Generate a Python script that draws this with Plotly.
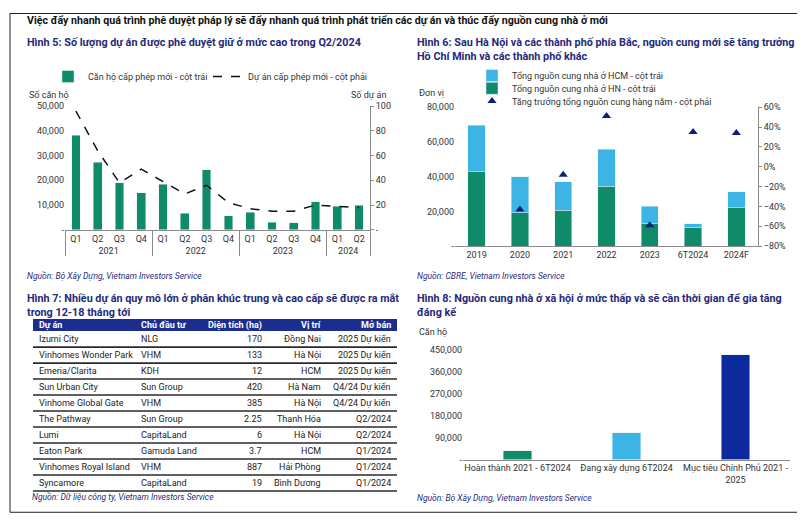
import plotly.graph_objects as go

W, H = 805, 523
OX, OY = 8, 8  # page offset of the plot div (browser body margin)
def px(x): return (x - OX) / W
def py(y): return 1 - (y - OY) / H

# ---------------- data ----------------
years5 = ["2021"] * 4 + ["2022"] * 4 + ["2023"] * 4 + ["2024"] * 2
quarters5 = ["Q1", "Q2", "Q3", "Q4"] * 3 + ["Q1", "Q2"]
apartments5 = [38200, 27400, 19000, 15000, 18500, 6600, 24300, 5700, 7000, 3000, 2800, 11400, 9500, 10000]
projects5 = [96, 64, 38, 49, 39, 29, 36, 22, 17, 15, 15, 20, 19, 18]

years6 = ["2019", "2020", "2021", "2022", "2023", "6T2024", "2024F"]
hn6 = [42900, 19100, 20600, 34500, 13100, 10900, 22100]
hcm6 = [26600, 20900, 16400, 21200, 9800, 2100, 9200]
growth6 = [None, -0.43, -0.08, 0.51, -0.59, 0.35, 0.34]

cats8 = ["Hoàn thành 2021 - 6T2024", "Đang xây dựng 6T2024", "Mục tiêu Chính Phủ 2021 -<br>2025"]
vals8 = [37000, 110000, 428000]

tbl_header = ["Dự án", "Chủ đầu tư", "Diện tích (ha)", "Vị trí", "Mở bán"]
tbl_project = ["Izumi City", "Vinhomes Wonder Park", "Emeria/Clarita", "Sun Urban City", "Vinhome Global Gate",
               "The Pathway", "Lumi", "Eaton Park", "Vinhomes Royal Island", "Syncamore"]
tbl_owner = ["NLG", "VHM", "KDH", "Sun Group", "VHM", "Sun Group", "CapitaLand", "Gamuda Land", "VHM", "CapitaLand"]
tbl_area = ["170", "133", "12", "420", "385", "2.25", "6", "3.7", "887", "19"]
tbl_loc = ["Đồng Nai", "Hà Nội", "HCM", "Hà Nam", "Hà Nội", "Thanh Hóa", "Hà Nội", "HCM", "Hải Phòng", "Bình Dương"]
tbl_open = ["2025 Dự kiến", "2025 Dự kiến", "2025 Dự kiến", "Q4/24 Dự kiến", "Q4/24 Dự kiến",
            "Q2/2024", "Q2/2024", "Q1/2024", "Q1/2024", "Q1/2024"]

# ---------------- style ----------------
FONT = "Roboto"
GREEN = "#0f8b69"
LBLUE = "#3db4e6"
NAVY = "#0c2a9c"
TITLE_C = "#1f2a7c"
TXT = "#333333"
AX = "#8a8a8a"

fig = go.Figure()

# Chart 1 (Hình 5)
fig.add_trace(go.Bar(x=[years5, quarters5], y=apartments5, marker_color=GREEN, width=0.4,
                     name="Căn hộ cấp phép mới - cột trái", xaxis="x", yaxis="y", legend="legend"))
fig.add_trace(go.Scatter(x=[years5, quarters5], y=projects5, mode="lines",
                         line=dict(color="#111111", dash="dash", width=1.5),
                         name="Dự án cấp phép mới - cột phải", xaxis="x", yaxis="y2", legend="legend"))

# Chart 2 (Hình 6)
fig.add_trace(go.Bar(x=years6, y=hn6, marker_color=GREEN, width=0.4,
                     name="Tổng nguồn cung nhà ở HN - cột trái", xaxis="x2", yaxis="y3", legend="legend3"))
fig.add_trace(go.Bar(x=years6, y=hcm6, marker_color=LBLUE, width=0.4,
                     name="Tổng nguồn cung nhà ở HCM - cột trái", xaxis="x2", yaxis="y3", legend="legend2"))
fig.add_trace(go.Scatter(x=years6, y=growth6, mode="markers",
                         marker=dict(symbol="triangle-up", size=8, color="#0d1f7e"),
                         name="Tăng trưởng tổng nguồn cung hàng năm - cột phải", xaxis="x2", yaxis="y4",
                         legend="legend4"))

# Chart 3 (Hình 8)
fig.add_trace(go.Bar(x=cats8, y=vals8, marker_color=[GREEN, LBLUE, NAVY], width=0.26,
                     showlegend=False, xaxis="x3", yaxis="y5"))

tick_font = dict(family=FONT, size=9, color=TXT)
ZERO = "-"

def leg(x, y, orientation="v", **kw):
    d = dict(x=px(x), y=py(y), xanchor="left", yanchor="top", orientation=orientation,
             font=dict(family=FONT, size=9, color=TXT), bgcolor="rgba(0,0,0,0)",
             itemwidth=30, traceorder="normal")
    d.update(kw)
    return d

fig.update_layout(
    width=W, height=H, margin=dict(l=0, r=0, t=0, b=0),
    paper_bgcolor="white", plot_bgcolor="white",
    font=dict(family=FONT, size=9, color=TXT),
    barmode="stack",
    xaxis=dict(domain=[px(65), px(370)], anchor="y", type="multicategory", showline=True, linecolor=AX,
               showdividers=True, dividercolor=AX, dividerwidth=1, ticks="", tickfont=tick_font,
               showgrid=False, zeroline=False),
    yaxis=dict(domain=[py(229), py(103)], anchor="x", range=[0, 50000],
               tickvals=[0, 10000, 20000, 30000, 40000, 50000],
               ticktext=[ZERO, "10,000", "20,000", "30,000", "40,000", "50,000"], showgrid=False,
               zeroline=False, showline=False, tickfont=tick_font, ticks=""),
    yaxis2=dict(anchor="x", overlaying="y", side="right", range=[0, 100], tickvals=[0, 20, 40, 60, 80, 100],
                ticktext=[ZERO, "20", "40", "60", "80", "100"], showgrid=False, zeroline=False,
                showline=True, linecolor=AX, ticks="outside", ticklen=3, tickcolor=AX, tickfont=tick_font),
    xaxis2=dict(domain=[px(455), px(758)], anchor="y3", showline=True, linecolor=AX, ticks="",
                tickfont=tick_font, showgrid=False, zeroline=False),
    yaxis3=dict(domain=[py(245.7), py(104)], anchor="x2", range=[0, 80000],
                tickvals=[0, 20000, 40000, 60000, 80000],
                ticktext=[ZERO, "20,000", "40,000", "60,000", "80,000"], showgrid=False, zeroline=False,
                showline=False, tickfont=tick_font, ticks=""),
    yaxis4=dict(anchor="x2", overlaying="y3", side="right", range=[-0.8, 0.6],
                tickvals=[-0.8, -0.6, -0.4, -0.2, 0, 0.2, 0.4, 0.6], tickformat=".0%", showgrid=False,
                zeroline=False, showline=True, linecolor=AX, ticks="outside", ticklen=3, tickcolor=AX,
                tickfont=tick_font),
    xaxis3=dict(domain=[px(463), px(790)], anchor="y5", showline=True, linecolor=AX, ticks="",
                tickfont=tick_font, showgrid=False, zeroline=False),
    yaxis5=dict(domain=[py(463.3), py(351)], anchor="x3", range=[0, 450000],
                tickvals=[0, 90000, 180000, 270000, 360000, 450000],
                ticktext=[ZERO, "90,000", "180,000", "270,000", "360,000", "450,000"], showgrid=False,
                zeroline=False, showline=False, tickfont=tick_font, ticks=""),
    legend=leg(48, 58, orientation="h", entrywidth=115, entrywidthmode="pixels"),
    legend2=leg(472, 57),
    legend3=leg(472, 70),
    legend4=leg(472, 83),
)

def note(x, y, text, size=9, color=TXT, bold=False, italic=False, xanchor="left", yanchor="middle"):
    if bold:
        text = "<b>%s</b>" % text
    if italic:
        text = "<i>%s</i>" % text
    fig.add_annotation(x=px(x), y=py(y), xref="paper", yref="paper", text=text, showarrow=False,
                       xanchor=xanchor, yanchor=yanchor, align="left", borderpad=0,
                       font=dict(family=FONT, size=size, color=color))

note(26, 16, "Việc đẩy nhanh quá trình phê duyệt pháp lý sẽ đẩy nhanh quá trình phát triển các dự án và thúc đẩy nguồn cung nhà ở mới",
     size=10.65, color="#111111", bold=True)
note(26, 38, "Hình 5: Số lượng dự án được phê duyệt giữ ở mức cao trong Q2/2024", size=10.8, color=TITLE_C, bold=True)
note(28, 92, "Số căn hộ")
note(387, 92, "Số dự án", xanchor="right")
note(26, 276, "Nguồn: Bộ Xây Dựng, Vietnam Investors Service", size=8.5, color=TITLE_C, italic=True)

note(416, 45, "Hình 6: Sau Hà Nội và các thành phố phía Bắc, nguồn cung mới sẽ tăng trưởng ở<br>Hồ Chí Minh và các thành phố khác",
     size=10.8, color=TITLE_C, bold=True)
note(418, 90, "Đơn vị")
note(416, 276, "Nguồn: CBRE, Vietnam Investors Service", size=8.5, color=TITLE_C, italic=True)

note(26, 306, "Hình 7: Nhiều dự án quy mô lớn ở phân khúc trung và cao cấp sẽ được ra mắt<br>trong 12-18 tháng tới",
     size=10.8, color=TITLE_C, bold=True)
note(31, 501, "Nguồn: Dữ liệu công ty, Vietnam Investors Service", size=8.5, color=TITLE_C, italic=True)

note(416, 306, "Hình 8: Nguồn cung nhà ở xã hội ở mức thấp và sẽ cần thời gian để gia tăng<br>đáng kể",
     size=10.8, color=TITLE_C, bold=True)
note(418, 333, "Căn hộ")
note(416, 502, "Nguồn: Bộ Xây Dựng, Vietnam Investors Service", size=8.5, color=TITLE_C, italic=True)

# ---------------- table (Hình 7) ----------------
T_LEFT, T_RIGHT, T_TOP, HEAD_H, ROW_H = 33, 397, 320, 12.3, 16.3
col_x = [38, 140, 263, 322, 392]
col_anchor = ["left", "left", "right", "right", "right"]
fig.add_shape(type="rect", xref="paper", yref="paper", x0=px(T_LEFT), x1=px(T_RIGHT),
              y0=py(T_TOP + HEAD_H), y1=py(T_TOP), fillcolor="#1b2d8e", line=dict(width=0), layer="below")
for c, h in enumerate(tbl_header):
    note(col_x[c], T_TOP + HEAD_H / 2, h, size=9, color="white", bold=True, xanchor=col_anchor[c])
columns = [tbl_project, tbl_owner, tbl_area, tbl_loc, tbl_open]
for r in range(len(tbl_project)):
    yc = T_TOP + HEAD_H + ROW_H * (r + 0.5)
    for c in range(len(columns)):
        note(col_x[c], yc, columns[c][r], size=9, color="#222222", xanchor=col_anchor[c])
    yy = T_TOP + HEAD_H + ROW_H * (r + 1)
    fig.add_shape(type="line", xref="paper", yref="paper", x0=px(T_LEFT), x1=px(T_RIGHT), y0=py(yy), y1=py(yy),
                  line=dict(color="#2a2a2a", width=1.6))

# outer border
fig.add_shape(type="rect", xref="paper", yref="paper", x0=px(10), x1=px(801), y0=py(517), y1=py(8.5),
              line=dict(color="#222222", width=1))

fig.write_html("out.html")
